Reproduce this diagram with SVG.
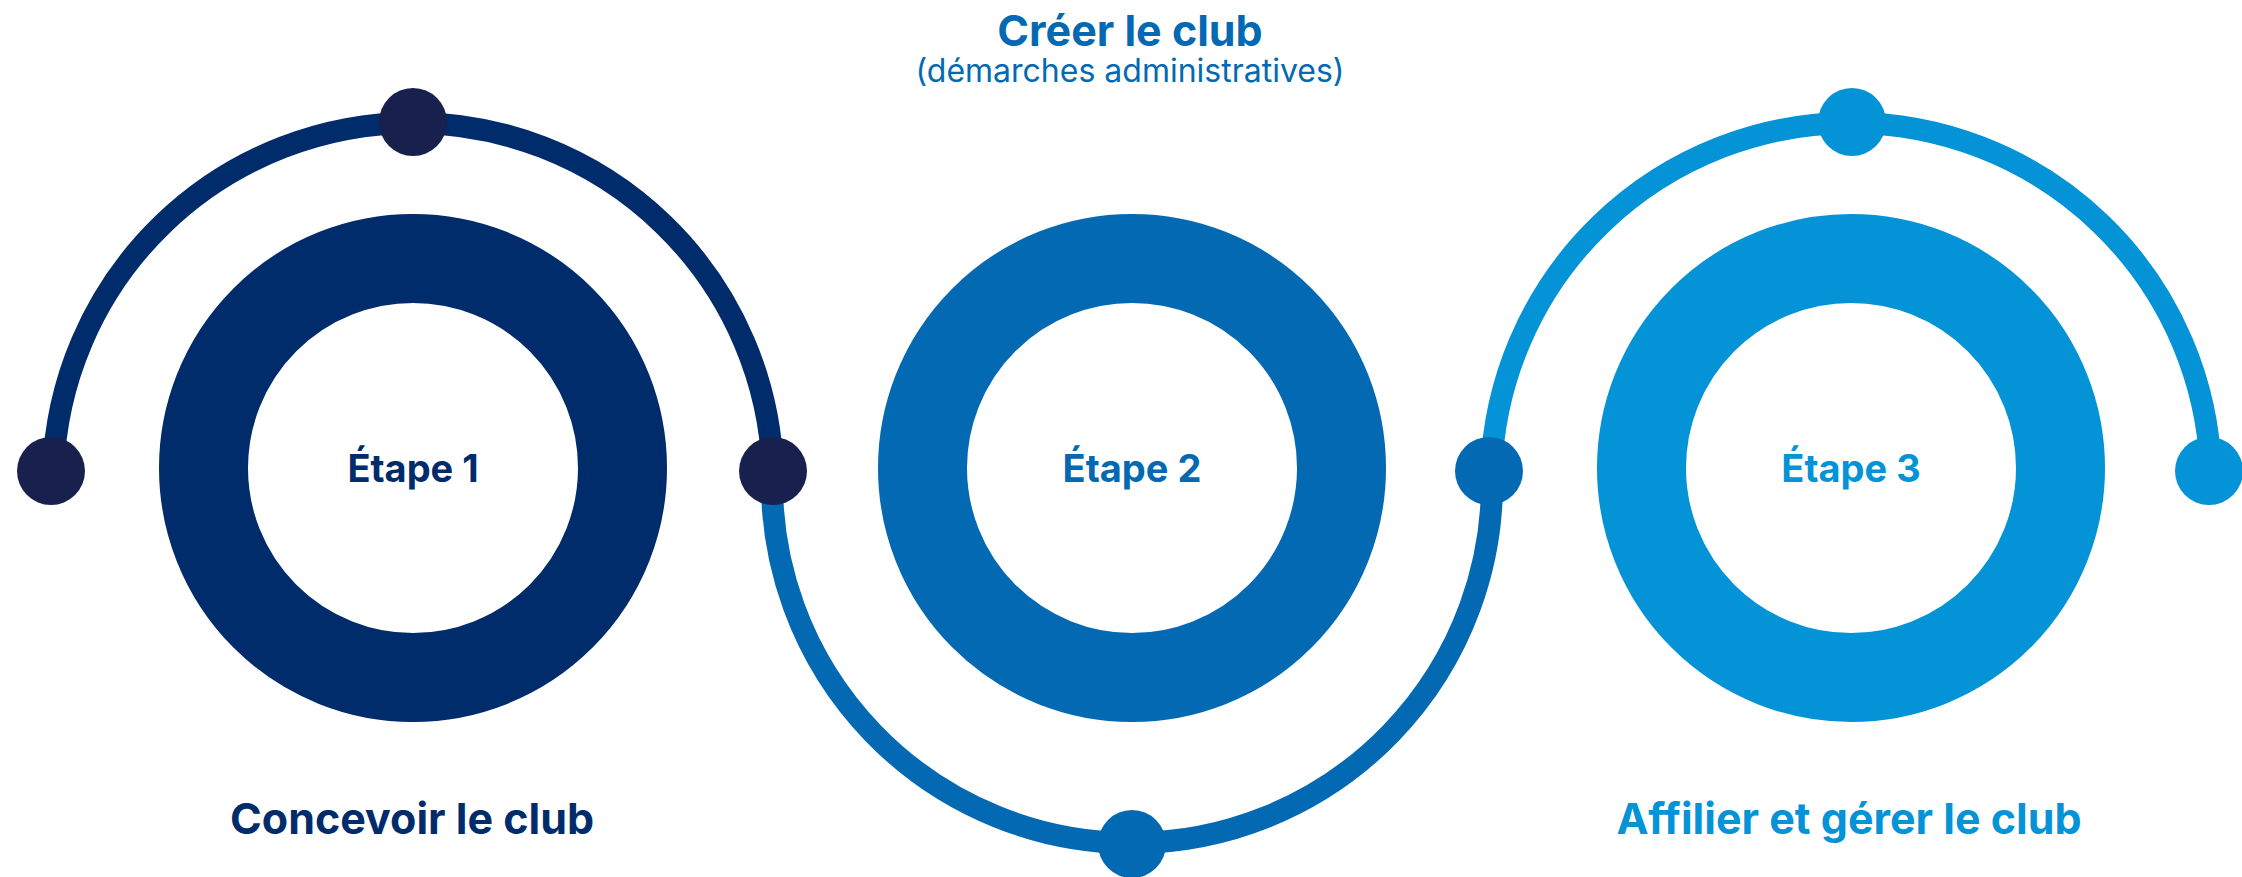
<svg xmlns="http://www.w3.org/2000/svg" width="2242" height="877" viewBox="0 0 2242 877">
<style>
.ring{fill:none;stroke-width:89}
.arc{fill:none;stroke-width:22}
.c1{stroke:#012C6C}.c2{stroke:#0369B3}.c3{stroke:#0393D6}
.d1{fill:#18214D}.d2{fill:#0369B3}.d3{fill:#0393D6}
.t{font-family:Inter,"Liberation Sans",sans-serif;font-weight:700;text-anchor:middle}
.step{font-size:38px}
.lbl{font-size:43px}
.sub{font-family:Inter,"Liberation Sans",sans-serif;font-weight:400;font-size:32px;text-anchor:middle}
</style>
<rect width="2242" height="877" fill="#ffffff"/>
<g id="connectors">
<path class="arc c1" d="M 53.2 471 A 360 360 0 0 1 772.8 471"/>
<path class="arc c2" d="M 772.2 471 A 360 360 0 1 0 1491.8 471"/>
<path class="arc c3" d="M 1491.2 471 A 360 360 0 0 1 2210.8 471"/>
<circle class="d1" cx="51" cy="471" r="34"/>
<circle class="d1" cx="413" cy="122" r="34"/>
<circle class="d1" cx="773" cy="471" r="34"/>
<circle class="d2" cx="1132" cy="844" r="34"/>
<circle class="d2" cx="1489" cy="471" r="34"/>
<circle class="d3" cx="1852" cy="122" r="34"/>
<circle class="d3" cx="2209" cy="471" r="34"/>
</g>
<g id="step1">
<circle class="ring c1" cx="413" cy="468" r="209.5"/>
<text class="t step" x="413" y="482" fill="#012C6C">Étape 1</text>
<text class="t lbl" x="412" y="834" fill="#012C6C">Concevoir le club</text>
</g>
<g id="step2">
<circle class="ring c2" cx="1132" cy="468" r="209.5"/>
<text class="t step" x="1132" y="482" fill="#0369B3">Étape 2</text>
<text class="t lbl" x="1130" y="46" fill="#0369B3">Créer le club</text>
<text class="sub" x="1130" y="82" fill="#0369B3">(démarches administratives)</text>
</g>
<g id="step3">
<circle class="ring c3" cx="1851" cy="468" r="209.5"/>
<text class="t step" x="1851" y="482" fill="#0393D6">Étape 3</text>
<text class="t lbl" x="1849" y="834" fill="#0393D6">Affilier et gérer le club</text>
</g>
</svg>
